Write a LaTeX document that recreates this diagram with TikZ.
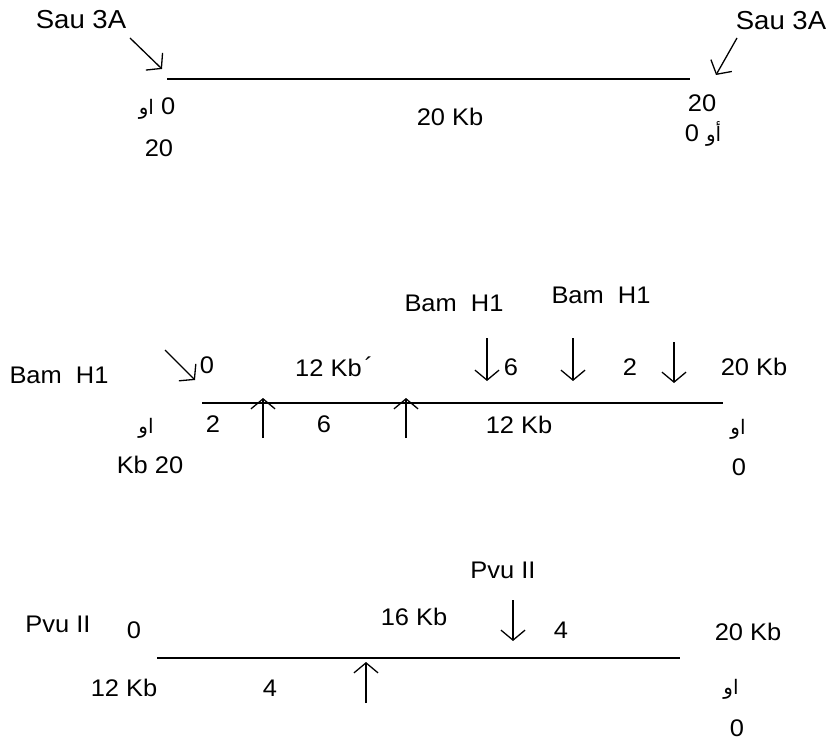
\documentclass[tikz,border=0pt]{standalone}
\usepackage{fontspec}
\setmainfont{Liberation Sans}[FakeStretch=1.06]
\newfontfamily\arabicfont[Script=Arabic]{DejaVu Sans}
\TeXXeTstate=1
\usetikzlibrary{arrows.meta}
\newcommand{\aw}{{\arabicfont\fontsize{20}{22}\selectfont\beginR او\endR}}
\newcommand{\awh}{{\arabicfont\fontsize{20}{22}\selectfont\beginR أو\endR}}
\tikzset{
  lbl/.style={font=\fontsize{24}{28}\selectfont, inner sep=0pt, anchor=base},
  big/.style={lbl, font=\fontsize{26}{30}\selectfont},
  dna/.style={line width=2.8pt},
  cut/.style={line width=1.3pt, -{Straight Barb[length=10pt,width=24pt,line width=1.3pt]}}
}
\begin{document}
\begin{tikzpicture}[x=1pt,y=-1pt]
\useasboundingbox (0,0) rectangle (831,741);
% ---------- top row ----------
\coordinate (t1) at (167,79);
\coordinate (t2) at (690,79);
\draw[dna] (t1) -- (t2);
\node[big] (sauL) at (81,29) {Sau 3A};
\node[big] (sauR) at (781,30) {Sau 3A};
\coordinate (sauLs) at (130,38);
\coordinate (sauLe) at (162,69);
\coordinate (sauRs) at (737,38);
\coordinate (sauRe) at (716,75);
\draw[cut] (sauLs) -- (sauLe);
\draw[cut] (sauRs) -- (sauRe);
\node[lbl] (tL1) at (157,115) {\aw\ 0};
\node[lbl] (tL2) at (159,157) {20};
\node[lbl] (tM) at (450,126) {20 Kb};
\node[lbl] (tR1) at (702,112) {20};
\node[lbl] (tR2) at (703,142) {0 \awh};
% ---------- middle row ----------
\coordinate (m1) at (202,403);
\coordinate (m2) at (723,403);
\draw[dna] (m1) -- (m2);
\node[lbl] (bamL) at (59,383) {Bam\ \ H1};
\node[lbl] (bam1) at (454,312) {Bam\ \ H1};
\node[lbl] (bam2) at (601,303) {Bam\ \ H1};
\coordinate (dgs) at (165,350);
\coordinate (dge) at (195,380);
\draw[cut] (dgs) -- (dge);
\node[lbl] (m0) at (207,373) {0};
\node[lbl, anchor=base west] (m12a) at (295,376) {12 Kb\hspace{3pt}\raisebox{2pt}{´}};
\coordinate (d1s) at (487,338);
\coordinate (d1e) at (487,381);
\coordinate (d2s) at (573,338);
\coordinate (d2e) at (573,381);
\coordinate (d3s) at (674,342);
\coordinate (d3e) at (674,383);
\draw[cut] (d1s) -- (d1e);
\draw[cut] (d2s) -- (d2e);
\draw[cut] (d3s) -- (d3e);
\node[lbl] (m6a) at (511,375) {6};
\node[lbl] (m2a) at (630,375) {2};
\node[lbl] (m20) at (754,375) {20 Kb};
\coordinate (u1s) at (263,438);
\coordinate (u1e) at (263,398);
\coordinate (u2s) at (406,438);
\coordinate (u2e) at (406,398);
\draw[cut] (u1s) -- (u1e);
\draw[cut] (u2s) -- (u2e);
\node[lbl] (m2b) at (213,432) {2};
\node[lbl] (m6b) at (324,432) {6};
\node[lbl] (m12b) at (519,433) {12 Kb};
\node[lbl] (mawL) at (146,433) {\aw};
\node[lbl] (mkb) at (150,473) {Kb 20};
\node[lbl] (mawR) at (738,434) {\aw};
\node[lbl] (m0R) at (739,475) {0};
% ---------- bottom row ----------
\coordinate (b1) at (157,658);
\coordinate (b2) at (680,658);
\draw[dna] (b1) -- (b2);
\node[lbl] (pvuL) at (58,632) {Pvu II};
\node[lbl] (pvuT) at (503,578) {Pvu II};
\node[lbl] (b0) at (134,638) {0};
\node[lbl] (b16) at (414,625) {16 Kb};
\coordinate (bds) at (513,600);
\coordinate (bde) at (513,641);
\draw[cut] (bds) -- (bde);
\node[lbl] (b4a) at (561,638) {4};
\node[lbl] (b20) at (748,640) {20 Kb};
\node[lbl] (b12) at (124,696) {12 Kb};
\node[lbl] (b4b) at (270,696) {4};
\coordinate (bus) at (366,703);
\coordinate (bue) at (366,662);
\draw[cut] (bus) -- (bue);
\node[lbl] (bawR) at (731,694) {\aw};
\node[lbl] (b0R) at (737,736) {0};
\end{tikzpicture}
\end{document}
